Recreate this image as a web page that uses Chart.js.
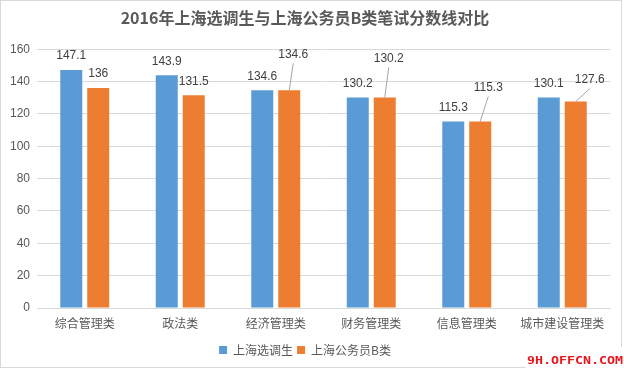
<!DOCTYPE html>
<html>
<head>
<meta charset="utf-8">
<script src="https://cdn.jsdelivr.net/npm/chart.js@4.4.0/dist/chart.umd.min.js"></script>
<style>
  html, body { margin: 0; padding: 0; background: #fff; }
  #wrap { width: 624px; height: 370px; }
</style>
</head>
<body>
<div id="wrap"><canvas id="chart" width="624" height="370"></canvas></div>
<script>
// categories and series
const categories = ['综合管理类', '政法类', '经济管理类', '财务管理类', '信息管理类', '城市建设管理类'];
const xuandiaoScores = [147.1, 143.9, 134.6, 130.2, 115.3, 130.1];
const gongwuyuanBScores = [136, 131.5, 134.6, 130.2, 115.3, 127.6];
const seriesNames = ['上海选调生', '上海公务员B类'];
const yMin = 0;
const yMax = 160;
const yStep = 20;

const blue = '#5b9bd5';
const orange = '#ed7d31';
const textColor = '#595959';

// draws value labels, leader lines, frame and watermark
const decorPlugin = {
  id: 'decor',
  beforeDraw(chart) {
    const ctx = chart.ctx;
    ctx.save();
    ctx.fillStyle = '#fff';
    ctx.fillRect(0, 0, chart.width, chart.height);
    ctx.restore();
  },
  afterDatasetsDraw(chart, args, opts) {
    const ctx = chart.ctx;
    ctx.save();
    ctx.font = '12px "Liberation Sans", Arial, sans-serif';
    ctx.textAlign = 'center';
    ctx.textBaseline = 'middle';
    chart.data.datasets.forEach((ds, di) => {
      const meta = chart.getDatasetMeta(di);
      const offsets = opts.offsets[di];
      meta.data.forEach((bar, i) => {
        const off = offsets[i];
        const lx = bar.x + off[0];
        const ly = bar.y - 14 + off[1];
        if (off[1] !== 0) {
          ctx.strokeStyle = '#a6a6a6';
          ctx.lineWidth = 1;
          ctx.beginPath();
          ctx.moveTo(lx, ly + 9);
          ctx.lineTo(bar.x, bar.y);
          ctx.stroke();
        }
        ctx.fillStyle = '#404040';
        ctx.fillText(String(ds.data[i]), lx, ly);
      });
    });
    ctx.restore();
  },
  afterDraw(chart) {
    const ctx = chart.ctx;
    ctx.save();
    ctx.strokeStyle = '#d9d9d9';
    ctx.lineWidth = 1;
    ctx.strokeRect(0.5, 0.5, 621, 367);
    ctx.fillStyle = '#fff';
    ctx.fillRect(526, 347, 98, 23);
    // watermark, stretched a little to match the original width
    ctx.translate(527, 361);
    ctx.scale(1.33, 1);
    ctx.fillStyle = '#e8141b';
    ctx.font = 'bold 10px "DejaVu Sans Mono", monospace';
    ctx.textAlign = 'left';
    ctx.textBaseline = 'middle';
    ctx.fillText('9H.OFFCN.COM', 0, 0);
    ctx.restore();
  }
};

new Chart(document.getElementById('chart'), {
  type: 'bar',
  data: {
    labels: categories,
    datasets: [
      { label: seriesNames[0], data: xuandiaoScores, backgroundColor: blue },
      { label: seriesNames[1], data: gongwuyuanBScores, backgroundColor: orange }
    ]
  },
  options: {
    responsive: false,
    animation: false,
    categoryPercentage: 0.565,
    barPercentage: 0.815,
    layout: { padding: { left: 0, right: 14, top: 0, bottom: 4 } },
    scales: {
      x: {
        grid: { display: false, drawTicks: false },
        border: { display: true, color: '#d9d9d9' },
        ticks: {
          padding: 8,
          color: textColor,
          font: { size: 12, family: '"Noto Sans CJK SC", sans-serif' }
        },
        afterFit(scale) { scale.height = 32; }
      },
      y: {
        min: yMin,
        max: yMax,
        grid: { color: '#d9d9d9', drawTicks: false },
        border: { display: false },
        ticks: {
          stepSize: yStep,
          padding: 7,
          color: textColor,
          font: { size: 12, family: '"Liberation Sans", Arial, sans-serif' }
        },
        afterFit(scale) { scale.width = 37; }
      }
    },
    plugins: {
      title: {
        display: true,
        text: '2016年上海选调生与上海公务员B类笔试分数线对比',
        color: textColor,
        font: { size: 16, weight: 'bold', family: '"Noto Sans CJK SC", sans-serif' },
        padding: { top: 8, bottom: 22 }
      },
      legend: {
        position: 'bottom',
        labels: {
          boxWidth: 8,
          boxHeight: 8,
          padding: 4,
          color: textColor,
          font: { size: 12, family: '"Noto Sans CJK SC", sans-serif' }
        }
      },
      tooltip: { enabled: false },
      decor: {
        offsets: [
          [[0, 0], [0, 0], [0, 0], [0, 0], [0, 0], [0, 0]],
          [[0, 0], [0, 0], [4, -22], [4, -25], [8, -20], [14, -8]]
        ]
      }
    }
  },
  plugins: [decorPlugin]
});
</script>
</body>
</html>
